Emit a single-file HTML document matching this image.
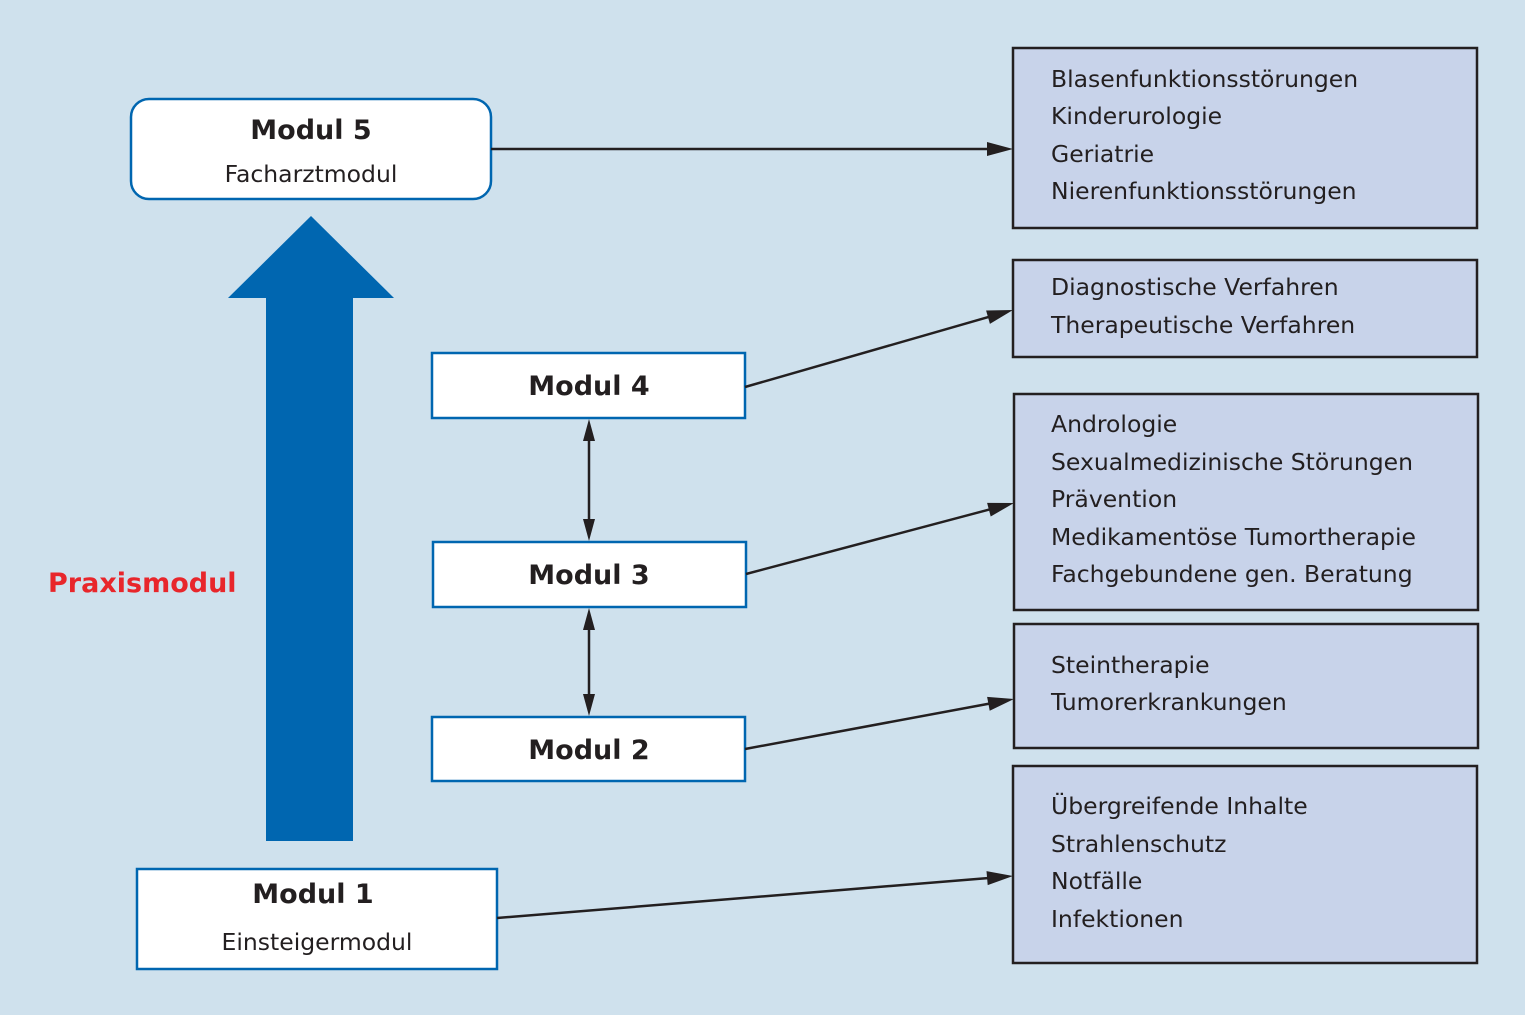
<!DOCTYPE html>
<html><head><meta charset="utf-8"><style>
html,body{margin:0;padding:0;background:#cfe1ed;}
svg{display:block;}
.t{font-family:"DejaVu Sans","Liberation Sans",sans-serif;font-size:23.5px;fill:#231f20;}
.m{font-family:"DejaVu Sans","Liberation Sans",sans-serif;font-size:27px;font-weight:bold;fill:#231f20;text-anchor:middle;}
.s{font-family:"DejaVu Sans","Liberation Sans",sans-serif;font-size:23.5px;fill:#231f20;text-anchor:middle;}
</style></head><body>
<svg width="1525" height="1015" viewBox="0 0 1525 1015" xmlns="http://www.w3.org/2000/svg">
<rect width="1525" height="1015" fill="#cfe1ed"/>
<rect x="266" y="296" width="87" height="545" fill="#0066b0"/>
<polygon points="228,298 394,298 311,216" fill="#0066b0"/>
<text x="48" y="592" font-family="DejaVu Sans,Liberation Sans,sans-serif" font-size="27" font-weight="bold" fill="#e8262b">Praxismodul</text>
<rect x="131" y="99" width="360" height="100" rx="18" fill="#fff" stroke="#0066b0" stroke-width="2.5"/>
<text class="m" x="311" y="139">Modul 5</text><text class="s" x="311" y="182">Facharztmodul</text>
<rect x="432" y="353" width="313" height="65" fill="#fff" stroke="#0066b0" stroke-width="2.5"/>
<text class="m" x="589" y="395">Modul 4</text>
<rect x="433" y="542" width="313" height="65" fill="#fff" stroke="#0066b0" stroke-width="2.5"/>
<text class="m" x="589" y="584">Modul 3</text>
<rect x="432" y="717" width="313" height="64" fill="#fff" stroke="#0066b0" stroke-width="2.5"/>
<text class="m" x="589" y="759">Modul 2</text>
<rect x="137" y="869" width="360" height="100" fill="#fff" stroke="#0066b0" stroke-width="2.5"/>
<text class="m" x="313" y="903">Modul 1</text><text class="s" x="317" y="950">Einsteigermodul</text>
<g stroke="#231f20" stroke-width="2.5" fill="#231f20">
<line x1="589" y1="438" x2="589" y2="522"/>
<polygon points="589,419 583,441 595,441" stroke="none"/><polygon points="589,541 583,519 595,519" stroke="none"/>
<line x1="589" y1="627" x2="589" y2="697"/>
<polygon points="589,608 583,630 595,630" stroke="none"/><polygon points="589,716 583,694 595,694" stroke="none"/>
</g>
<g fill="#c8d3ea" stroke="#231f20" stroke-width="2.5">
<rect x="1013" y="48" width="464" height="180"/>
<rect x="1013" y="260" width="464" height="97"/>
<rect x="1014" y="394" width="464" height="216"/>
<rect x="1014" y="624" width="464" height="124"/>
<rect x="1013" y="766" width="464" height="197"/>
</g>
<g class="t">
<text x="1051" y="87">Blasenfunktionsstörungen</text>
<text x="1051" y="124">Kinderurologie</text>
<text x="1051" y="162">Geriatrie</text>
<text x="1051" y="199">Nierenfunktionsstörungen</text>
<text x="1051" y="295">Diagnostische Verfahren</text>
<text x="1051" y="333">Therapeutische Verfahren</text>
<text x="1051" y="432">Andrologie</text>
<text x="1051" y="470">Sexualmedizinische Störungen</text>
<text x="1051" y="507">Prävention</text>
<text x="1051" y="545">Medikamentöse Tumortherapie</text>
<text x="1051" y="582">Fachgebundene gen. Beratung</text>
<text x="1051" y="673">Steintherapie</text>
<text x="1051" y="710">Tumorerkrankungen</text>
<text x="1051" y="814">Übergreifende Inhalte</text>
<text x="1051" y="852">Strahlenschutz</text>
<text x="1051" y="889">Notfälle</text>
<text x="1051" y="927">Infektionen</text>
</g>
<g stroke="#231f20" stroke-width="2.5">
<line x1="491" y1="149" x2="990" y2="149"/>
<line x1="745" y1="387" x2="990" y2="316.6"/>
<line x1="746" y1="574" x2="991" y2="509.1"/>
<line x1="745" y1="749" x2="990" y2="703.5"/>
<line x1="497" y1="918" x2="989" y2="878"/>
</g>
<g fill="#231f20">
<polygon points="1013,149 987,142 987,156"/>
<polygon points="1013,310 989.9,323.9 986.1,310.5"/>
<polygon points="1014,503 990.7,516.5 987.1,502.9"/>
<polygon points="1014,699 989.7,710.7 987.1,696.9"/>
<polygon points="1013,876 987.7,885.1 986.5,871.1"/>
</g>
</svg>
</body></html>
